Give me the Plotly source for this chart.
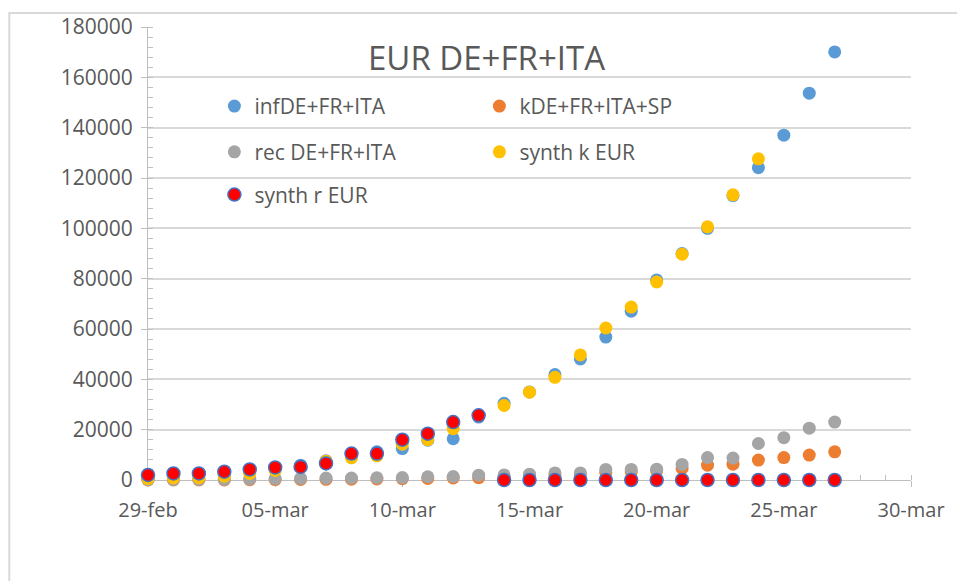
import pandas as pd
import plotly.graph_objects as go

# daily points, 29-feb .. 27-mar
dates = pd.date_range("2020-02-29", periods=28)

inf_vals = [1300, 1900, 2400, 2900, 3600, 4700, 5900, 7600, 9500, 11200,
            12500, 15800, 16400, 25000, 30500, 35000, 41900, 48100, 56800, 67100,
            79500, 90000, 100000, 113000, 124100, 137000, 153700, 170100]
k_vals = [0, 0, 0, 0, 100, 150, 200, 250, 300, 400,
          500, 600, 800, 900, 1300, 1700, 2000, 2400, 3000, 3300,
          3700, 4600, 5900, 6300, 7900, 8900, 9900, 11200]
rec_vals = [100, 150, 200, 250, 400, 550, 650, 750, 800, 900,
            950, 1300, 1400, 1900, 2000, 2300, 2800, 2800, 4200, 4200,
            4300, 6200, 8900, 8700, 14500, 16800, 20600, 23000]
synth_k = [500, 800, 900, 1500, 2600, 3800, 5000, 7500, 8800, 9600,
           14200, 16000, 20400, 25500, 29600, 34900, 40800, 49700, 60400, 68700,
           78700, 89700, 100600, 113300, 127600, None, None, None]
synth_r = [2000, 2600, 2600, 3300, 4200, 5000, 5200, 6600, 10500, 10500,
           16000, 18400, 23000, 25700, 0, 0, 0, 0, 0, 0,
           0, 0, 0, 0, 0, 0, 0, 0]

tick_dates = ["2020-02-29", "2020-03-05", "2020-03-10", "2020-03-15",
              "2020-03-20", "2020-03-25", "2020-03-30"]
tick_labels = ["29-feb", "05-mar", "10-mar", "15-mar", "20-mar", "25-mar", "30-mar"]

W, H = 957, 581
L, R, T, B = 148, 39, 24, 101
pw, ph = W - L - R, H - T - B


def px_x(p):
    return (p - L) / pw


def px_y(p):
    return (H - B - p) / ph


txt = "#595959"
font = "Open Sans"

fig = go.Figure()

series = [
    ("infDE+FR+ITA", inf_vals, "#5B9BD5", None, "legend"),
    ("kDE+FR+ITA+SP", k_vals, "#ED7D31", None, "legend"),
    ("rec DE+FR+ITA", rec_vals, "#A5A5A5", None, "legend2"),
    ("synth k EUR", synth_k, "#FFC000", None, "legend2"),
    ("synth r EUR", synth_r, "#FF0000", "#4472C4", "legend3"),
]
for name, vals, col, edge, leg in series:
    fig.add_trace(go.Scatter(
        x=dates, y=vals, name=name, mode="markers", legend=leg,
        cliponaxis=False,
        marker=dict(size=13, color=col,
                    line=dict(color=edge or col, width=1.5 if edge else 0)),
    ))

leg_common = dict(orientation="h", xanchor="left", yanchor="middle",
                  entrywidth=220, entrywidthmode="pixels",
                  font=dict(family=font, size=21, color=txt),
                  bgcolor="rgba(0,0,0,0)")

fig.update_layout(
    width=W, height=H,
    margin=dict(l=L, r=R, t=T, b=B),
    paper_bgcolor="white", plot_bgcolor="white",
    font=dict(family=font, color=txt),
    legend=dict(x=px_x(215), y=px_y(104), **leg_common),
    legend2=dict(x=px_x(215), y=px_y(150), **leg_common),
    legend3=dict(x=px_x(215), y=px_y(193), **leg_common),
    xaxis=dict(
        range=["2020-02-29", "2020-03-30"],
        tickvals=tick_dates, ticktext=tick_labels,
        tickfont=dict(size=20, color=txt),
        showgrid=False, zeroline=False, layer="below traces",
        showline=True, linecolor="#BFBFBF", linewidth=1,
        ticks="outside", ticklen=6, tickcolor="#BFBFBF",
        ticklabelstandoff=6,
        minor=dict(dtick=86400000, ticks="inside", ticklen=5,
                   tickcolor="#BFBFBF", showgrid=False),
    ),
    yaxis=dict(
        range=[0, 180000], dtick=20000, tickformat="d",
        tickfont=dict(size=21, color=txt),
        showgrid=True, gridcolor="#D9D9D9", gridwidth=1.5,
        zeroline=False, layer="below traces",
        showline=True, linecolor="#BFBFBF", linewidth=1,
        ticks="outside", ticklen=6, tickcolor="#BFBFBF",
        ticklabelstandoff=4,
        minor=dict(dtick=4000, ticks="inside", ticklen=5,
                   tickcolor="#BFBFBF", showgrid=False),
    ),
)

fig.add_annotation(
    text="EUR DE+FR+ITA", xref="paper", yref="paper",
    x=px_x(490), y=px_y(55), xanchor="center", yanchor="middle",
    showarrow=False,
    font=dict(family=font, size=33, color=txt),
)

# chart area border (runs off the right and bottom edges)
fig.add_shape(type="rect", xref="paper", yref="paper",
              x0=px_x(8), x1=px_x(990), y0=px_y(620), y1=px_y(10),
              line=dict(color="#D9D9D9", width=2), layer="below")

fig.write_html("out.html", config={"displayModeBar": False},
               post_script="document.body.style.margin='0';"
                           "document.body.style.overflow='hidden';")
